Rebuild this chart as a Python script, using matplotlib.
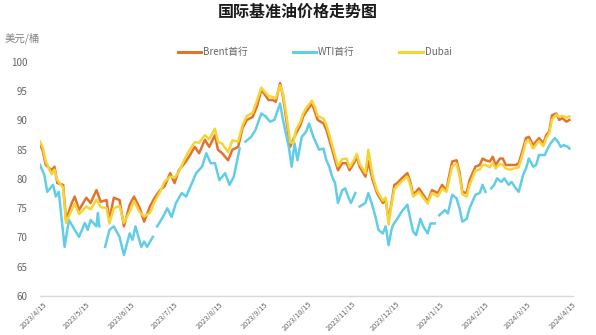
import matplotlib
matplotlib.use("Agg")
import matplotlib.pyplot as plt
import numpy as np
import pandas as pd

plt.rcParams['font.family'] = ['Noto Sans CJK SC', 'DejaVu Sans']

title = "国际基准油价格走势图"
unit_label = "美元/桶"
series_names = ["Brent首行", "WTI首行", "Dubai"]
series_colors = ["#E2732F", "#62CDE6", "#F4D535"]

tick_dates = ["2023-04-15", "2023-05-15", "2023-06-15", "2023-07-15", "2023-08-15",
              "2023-09-15", "2023-10-15", "2023-11-15", "2023-12-15", "2024-01-15",
              "2024-02-15", "2024-03-15", "2024-04-15"]
tick_labels = ["2023/4/15", "2023/5/15", "2023/6/15", "2023/7/15", "2023/8/15",
               "2023/9/15", "2023/10/15", "2023/11/15", "2023/12/15", "2024/1/15",
               "2024/2/15", "2024/3/15", "2024/4/15"]
y_ticks = [60, 65, 70, 75, 80, 85, 90, 95, 100]

brent_dates = [
    "2023-04-13", "2023-04-15", "2023-04-17", "2023-04-21", "2023-04-23", "2023-04-25", "2023-04-29",
    "2023-05-01", "2023-05-05", "2023-05-07", "2023-05-10", "2023-05-15", "2023-05-18", "2023-05-22",
    "2023-05-25", "2023-05-29", "2023-05-31", "2023-06-03", "2023-06-07", "2023-06-10", "2023-06-14",
    "2023-06-17", "2023-06-21", "2023-06-24", "2023-06-28", "2023-07-01", "2023-07-05", "2023-07-08",
    "2023-07-12", "2023-07-15", "2023-07-18", "2023-07-22", "2023-07-25", "2023-07-29", "2023-08-01",
    "2023-08-05", "2023-08-08", "2023-08-12", "2023-08-14", "2023-08-17", "2023-08-21", "2023-08-24",
    "2023-08-28", "2023-08-31", "2023-09-03", "2023-09-07", "2023-09-10", "2023-09-13", "2023-09-15",
    "2023-09-18", "2023-09-21", "2023-09-23", "2023-09-26", "2023-09-28", "2023-09-30", "2023-10-03",
    "2023-10-05", "2023-10-07", "2023-10-10", "2023-10-12", "2023-10-14", "2023-10-18", "2023-10-20",
    "2023-10-22", "2023-10-26", "2023-10-28", "2023-10-30", "2023-11-01", "2023-11-03", "2023-11-05",
    "2023-11-08", "2023-11-11", "2023-11-13", "2023-11-16", "2023-11-18", "2023-11-20", "2023-11-24",
    "2023-11-26", "2023-11-29", "2023-12-02", "2023-12-06", "2023-12-08", "2023-12-10", "2023-12-12",
    "2023-12-14", "2023-12-16", "2023-12-19", "2023-12-23", "2023-12-25", "2023-12-27", "2023-12-31",
    "2024-01-03", "2024-01-06", "2024-01-09", "2024-01-13", "2024-01-16", "2024-01-19", "2024-01-21",
    "2024-01-23", "2024-01-26", "2024-01-28", "2024-01-30", "2024-02-02", "2024-02-04", "2024-02-08",
    "2024-02-11", "2024-02-13", "2024-02-15", "2024-02-18", "2024-02-20", "2024-02-22", "2024-02-25",
    "2024-02-27", "2024-02-29", "2024-03-03", "2024-03-07", "2024-03-09", "2024-03-12", "2024-03-14",
    "2024-03-16", "2024-03-19", "2024-03-21", "2024-03-23", "2024-03-26", "2024-03-28", "2024-03-30",
    "2024-04-01", "2024-04-04", "2024-04-06", "2024-04-08", "2024-04-11", "2024-04-13"]

brent_values = [
    86.1, 84.7, 82.4, 81.5, 82.1, 79.3, 79.0,
    73.0, 75.9, 77.0, 74.7, 76.8, 75.9, 78.1,
    76.1, 76.4, 73.0, 76.8, 76.4, 71.9, 75.6,
    77.0, 75.0, 72.7, 75.3, 76.7, 78.1, 78.7,
    81.0, 79.3, 81.5, 82.7, 83.8, 85.5, 84.4,
    86.7, 85.5, 87.5, 85.0, 84.4, 83.2, 85.0,
    85.5, 88.7, 90.1, 90.6, 92.4, 95.2, 94.6,
    93.5, 93.5, 93.2, 96.4, 94.1, 90.7, 85.5,
    86.7, 87.8, 89.2, 90.7, 91.5, 92.9, 91.5,
    90.1, 89.5, 88.4, 86.7, 85.0, 83.2, 81.5,
    82.7, 82.7, 81.5, 82.7, 83.8, 82.1, 80.4,
    83.0, 79.8, 77.6, 75.9, 76.4, 73.0, 75.9,
    79.0, 79.3, 80.1, 81.0, 79.5, 77.3, 78.4,
    77.3, 76.1, 78.1, 77.6, 79.0, 78.1, 80.7,
    83.0, 83.2, 81.2, 77.8, 77.6, 79.8, 82.1,
    82.4, 83.5, 83.2, 83.0, 83.8, 82.4, 83.5,
    83.5, 82.4, 82.4, 82.4, 82.7, 85.2, 87.0,
    87.2, 85.8, 86.4, 87.0, 86.1, 87.5, 88.1,
    90.9, 91.2, 90.1, 90.4, 89.8, 90.1]

dubai_values = [
    86.4, 85.3, 83.0, 80.8, 81.6, 79.8, 78.5,
    72.5, 74.8, 75.8, 74.0, 75.3, 74.8, 76.5,
    75.2, 75.0, 72.4, 75.0, 75.4, 72.5, 74.4,
    76.2, 74.3, 73.6, 74.2, 76.0, 77.8, 79.5,
    80.4, 80.2, 81.2, 83.4, 84.8, 86.3, 86.2,
    87.5, 86.8, 88.6, 86.4, 86.0, 84.6, 86.6,
    86.4, 89.2, 90.8, 91.3, 93.4, 95.6, 95.0,
    94.2, 94.0, 93.8, 96.0, 94.5, 91.5, 86.3,
    86.1, 88.4, 89.8, 91.2, 92.1, 93.4, 92.3,
    90.8, 90.3, 89.2, 87.6, 85.8, 84.0, 82.2,
    83.4, 83.5, 82.0, 83.2, 84.3, 82.6, 81.0,
    85.0, 80.5, 78.0, 76.3, 76.8, 72.2, 75.6,
    78.3, 78.8, 79.6, 80.4, 79.0, 77.0, 77.8,
    76.8, 75.8, 77.6, 77.0, 78.4, 77.8, 80.0,
    82.2, 82.6, 80.6, 77.4, 77.0, 79.0, 81.4,
    81.6, 82.4, 82.4, 82.0, 82.8, 81.8, 82.6,
    82.4, 81.8, 81.6, 81.9, 82.0, 84.5, 86.4,
    86.6, 85.2, 85.9, 86.5, 85.6, 87.0, 87.8,
    90.2, 91.0, 90.6, 90.8, 90.5, 90.7]

wti_dates = [
    "2023-04-13", "2023-04-16", "2023-04-18", "2023-04-22", "2023-04-24", "2023-04-26", "2023-04-30",
    "2023-05-03", "2023-05-07", "2023-05-10", "2023-05-14", "2023-05-16", "2023-05-18", "2023-05-22",
    "2023-05-23", "2023-05-24", "2023-05-26", "2023-05-28", "2023-05-31", "2023-06-03", "2023-06-07",
    "2023-06-10", "2023-06-14", "2023-06-16", "2023-06-18", "2023-06-22", "2023-06-24", "2023-06-26",
    "2023-06-30", "2023-07-02", "2023-07-03", "2023-07-07", "2023-07-10", "2023-07-13", "2023-07-16",
    "2023-07-20", "2023-07-23", "2023-07-27", "2023-07-30", "2023-08-03", "2023-08-06", "2023-08-09",
    "2023-08-12", "2023-08-15", "2023-08-19", "2023-08-22", "2023-08-25", "2023-08-29", "2023-09-01",
    "2023-09-02", "2023-09-06", "2023-09-09", "2023-09-13", "2023-09-16", "2023-09-19", "2023-09-22",
    "2023-09-26", "2023-09-28", "2023-10-02", "2023-10-04", "2023-10-06", "2023-10-08", "2023-10-11",
    "2023-10-14", "2023-10-16", "2023-10-19", "2023-10-21", "2023-10-23", "2023-10-26", "2023-10-28",
    "2023-10-30", "2023-11-01", "2023-11-03", "2023-11-05", "2023-11-08", "2023-11-10", "2023-11-12",
    "2023-11-14", "2023-11-17", "2023-11-19", "2023-11-20", "2023-11-24", "2023-11-26", "2023-11-29",
    "2023-12-01", "2023-12-03", "2023-12-06", "2023-12-08", "2023-12-10", "2023-12-12", "2023-12-13",
    "2023-12-16", "2023-12-19", "2023-12-23", "2023-12-25", "2023-12-27", "2023-12-29", "2024-01-01",
    "2024-01-03", "2024-01-06", "2024-01-08", "2024-01-11", "2024-01-13", "2024-01-14", "2024-01-18",
    "2024-01-20", "2024-01-23", "2024-01-26", "2024-01-28", "2024-01-30", "2024-02-02", "2024-02-04",
    "2024-02-08", "2024-02-11", "2024-02-13", "2024-02-15", "2024-02-17", "2024-02-19", "2024-02-21",
    "2024-02-23", "2024-02-26", "2024-02-28", "2024-03-02", "2024-03-04", "2024-03-07", "2024-03-09",
    "2024-03-12", "2024-03-14", "2024-03-16", "2024-03-19", "2024-03-21", "2024-03-23", "2024-03-27",
    "2024-03-29", "2024-03-31", "2024-04-03", "2024-04-05", "2024-04-07", "2024-04-09", "2024-04-12",
    "2024-04-13"]

wti_values = [
    82.4, 80.7, 77.8, 79.0, 77.0, 77.8, 68.4,
    73.0, 71.3, 70.1, 72.5, 71.3, 73.0, 71.9,
    74.2, 71.9, None, 68.4, 71.3, 71.9, 70.1,
    67.0, 70.7, 69.6, 71.9, 68.4, 69.3, 68.4,
    70.1, None, 71.9, 73.5, 75.0, 73.5, 75.9,
    77.6, 77.0, 79.3, 81.0, 82.1, 84.4, 82.7,
    82.7, 79.8, 81.0, 79.0, 80.4, 85.2, None,
    86.4, 87.2, 88.4, 91.2, 90.7, 89.8, 90.1,
    92.9, 90.1, 85.5, 82.1, 86.1, 83.2, 87.2,
    88.1, 89.5, 87.2, 86.1, 85.0, 85.2, 83.2,
    82.1, 80.4, 79.3, 75.9, 78.1, 78.4, 77.0,
    75.9, 77.6, None, 75.3, 75.9, 77.6, 75.3,
    73.5, 71.3, 70.7, 71.9, 68.7, 71.3, 72.1,
    73.2, 74.4, 75.6, 73.2, 71.0, 70.4, 73.2,
    71.9, 70.7, 72.4, 72.4, None, 73.8, 74.7,
    74.1, 77.3, 76.7, 75.0, 72.7, 73.2, 75.0,
    77.3, 77.6, 79.0, 77.8, None, 78.4, 79.0,
    80.1, 79.5, 80.1, 79.0, 79.5, 78.4, 77.8,
    80.7, 81.8, 83.5, 82.1, 82.4, 84.1, 84.1,
    85.2, 86.1, 87.0, 86.4, 85.5, 85.8, 85.5,
    85.2]

# ---------------------------------------------------------------
brent_x = pd.to_datetime(brent_dates)
wti_x = pd.to_datetime(wti_dates)
wti_y = np.array([np.nan if v is None else v for v in wti_values], dtype=float)

W, H = 596, 335
fig = plt.figure(figsize=(W / 100, H / 100), dpi=100)
ax = fig.add_axes([40 / W, 1 - 296 / H, (573 - 40) / W, (296 - 62) / H])

lw = 1.8
ax.plot(brent_x, brent_values, color=series_colors[0], lw=lw, label=series_names[0], solid_joinstyle='round')
ax.plot(wti_x, wti_y, color=series_colors[1], lw=lw, label=series_names[1], solid_joinstyle='round')
ax.plot(brent_x, dubai_values, color=series_colors[2], lw=lw, label=series_names[2], solid_joinstyle='round')

ax.set_ylim(60, 100)
ax.set_yticks(y_ticks)
ax.set_xlim(pd.Timestamp("2023-04-13"), pd.Timestamp("2024-04-15 12:00"))
ax.set_xticks(pd.to_datetime(tick_dates))
ax.set_xticklabels(tick_labels, rotation=45, ha='right', va='top', rotation_mode='anchor')

for s in ["top", "right", "left"]:
    ax.spines[s].set_visible(False)
ax.spines["bottom"].set_color("#D9D9D9")
ax.spines["bottom"].set_linewidth(1.0)
ax.tick_params(axis='both', length=0, colors="#666666")
ax.tick_params(axis='y', labelsize=7, pad=9)
ax.tick_params(axis='x', labelsize=5.3, pad=3)

fig.text(0.5, 1 - 12 / H, title, ha='center', va='center', fontsize=11.5,
         fontweight='bold', color="#1a1a1a")
fig.text(5 / W, 1 - 38 / H, unit_label, ha='left', va='center', fontsize=7.5, color="#7F7F7F")

leg = fig.legend(loc='center', bbox_to_anchor=(0.528, 1 - 52 / H), ncol=3, frameon=False,
                 fontsize=7, handlelength=2.4, handletextpad=0.2, columnspacing=4.6)
for t in leg.get_texts():
    t.set_color("#666666")
for l in leg.get_lines():
    l.set_linewidth(2.2)

fig.savefig("out.png", dpi=100)
